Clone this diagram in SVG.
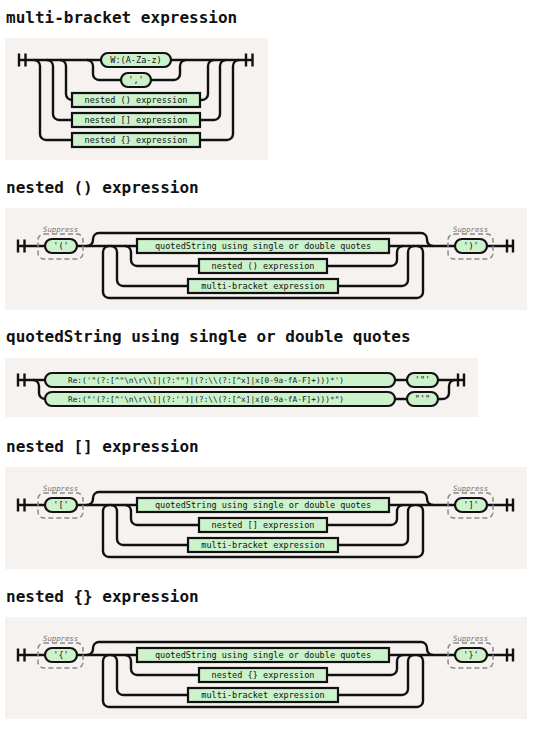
<svg xmlns="http://www.w3.org/2000/svg" width="540" height="737" viewBox="0 0 540 737">
<style>
.panel{fill:#f6f2ef}
.title{font-family:"DejaVu Sans Mono","Liberation Mono",monospace;font-weight:bold;font-size:16px;fill:#111}
.ln{fill:none;stroke:#111;stroke-width:2.4}
.nt{fill:#ccf2cc;stroke:#111;stroke-width:2.2}
.grp{fill:none;stroke:#8a8a8a;stroke-width:1.5;stroke-dasharray:5 3}
.lbl{font-family:"DejaVu Sans Mono","Liberation Mono",monospace;font-style:italic;font-size:7.3px;fill:#777}
.t{font-family:"DejaVu Sans Mono","Liberation Mono",monospace;font-size:8.55px;text-anchor:middle;fill:#111}
.rx{font-family:"DejaVu Sans Mono","Liberation Mono",monospace;font-size:7.8px;fill:#111}
</style>
<rect width="540" height="737" fill="#ffffff"/>

<!-- Diagram 1: multi-bracket expression -->
<g id="d1" transform="translate(0,60)">
  <rect class="panel" x="5" y="-22" width="263" height="122"/>
  <text class="title" x="6" y="-37">multi-bracket expression</text>
  <g id="d1-connectors" class="ln">
    <path d="M19,-6.5v13M25.5,-6.5v13M19,0H101M171,0H252.5M246,-6.5v13M252.5,-6.5v13"/>
    <path d="M34,0a6,6 0 0 1 6,6v68a6,6 0 0 0 6,6H72"/>
    <path d="M47,0a6,6 0 0 1 6,6v48a6,6 0 0 0 6,6H72"/>
    <path d="M60,0a6,6 0 0 1 6,6v28a6,6 0 0 0 6,6"/>
    <path d="M87,0a6,6 0 0 1 6,6v8a6,6 0 0 0 6,6H121"/>
    <path d="M151,20H174a6,6 0 0 0 6,-6v-8a6,6 0 0 1 6,-6"/>
    <path d="M200,40H202a6,6 0 0 0 6,-6v-28a6,6 0 0 1 6,-6"/>
    <path d="M200,60H214a6,6 0 0 0 6,-6v-48a6,6 0 0 1 6,-6"/>
    <path d="M200,80H227a6,6 0 0 0 6,-6v-68a6,6 0 0 1 6,-6"/>
  </g>
  <g id="d1-word"><rect class="nt" x="101" y="-7" width="70" height="14" rx="7"/><text class="t" x="136" y="3">W:(A-Za-z)</text></g>
  <g id="d1-comma"><rect class="nt" x="121" y="13" width="30" height="14" rx="7"/><text class="t" x="136" y="23">','</text></g>
  <g id="d1-paren"><rect class="nt" x="72" y="33" width="128" height="14"/><text class="t" x="136" y="43">nested () expression</text></g>
  <g id="d1-square"><rect class="nt" x="72" y="53" width="128" height="14"/><text class="t" x="136" y="63">nested [] expression</text></g>
  <g id="d1-curly"><rect class="nt" x="72" y="73" width="128" height="14"/><text class="t" x="136" y="83">nested {} expression</text></g>
</g>

<!-- Diagram 2: nested () expression -->
<g id="d2" transform="translate(0,246)">
  <rect class="panel" x="5" y="-38" width="522" height="102"/>
  <text class="title" x="6" y="-53.5">nested () expression</text>
  <g id="d2-connectors" class="ln">
    <path d="M18,-6.5v13M24.5,-6.5v13M18,0H45M77,0H137M389,0H455M487,0H513M507,-6.5v13M513,-6.5v13"/>
    <path d="M87,0a6,6 0 0 0 6,-6v-1a6,6 0 0 1 6,-6H421a6,6 0 0 1 6,6v1a6,6 0 0 0 6,6"/>
    <path d="M125,0a6,6 0 0 1 6,6v8a6,6 0 0 0 6,6H199M327,20H391a6,6 0 0 0 6,-6v-8a6,6 0 0 1 6,-6"/>
    <path d="M111,0a6,6 0 0 1 6,6v28a6,6 0 0 0 6,6H188M338,40H402a6,6 0 0 0 6,-6v-28a6,6 0 0 1 6,-6"/>
    <path d="M109,0a6,6 0 0 0 -6,6v40a6,6 0 0 0 6,6H417a6,6 0 0 0 6,-6v-40a6,6 0 0 0 -6,-6"/>
  </g>
  <g id="d2-open"><rect class="grp" x="38" y="-12" width="45" height="25" rx="6"/><text class="lbl" x="43" y="-14.5">Suppress</text><rect class="nt" x="45" y="-7" width="32" height="14" rx="7"/><text class="t" x="61" y="3">'('</text></g>
  <g id="d2-quoted"><rect class="nt" x="137" y="-7" width="252" height="14"/><text class="t" x="263" y="3">quotedString using single or double quotes</text></g>
  <g id="d2-nested"><rect class="nt" x="199" y="13" width="128" height="14"/><text class="t" x="263" y="23">nested () expression</text></g>
  <g id="d2-multi"><rect class="nt" x="188" y="33" width="150" height="14"/><text class="t" x="263" y="43">multi-bracket expression</text></g>
  <g id="d2-close"><rect class="grp" x="448" y="-12" width="45" height="25" rx="6"/><text class="lbl" x="453" y="-14.5">Suppress</text><rect class="nt" x="455" y="-7" width="32" height="14" rx="7"/><text class="t" x="471" y="3">')'</text></g>
</g>

<!-- Diagram 3: quotedString -->
<g id="d3" transform="translate(0,380)">
  <rect class="panel" x="5" y="-22" width="473" height="59"/>
  <text class="title" x="6" y="-37.7">quotedString using single or double quotes</text>
  <g id="d3-connectors" class="ln">
    <path d="M18,-6.5v13M24.5,-6.5v13M18,0H45M395,0H407M438,0H464M458,-6.5v13M464,-6.5v13"/>
    <path d="M33,0a6,6 0 0 1 6,6v7a6,6 0 0 0 6,6"/>
    <path d="M395,19H407M438,19H443a6,6 0 0 0 6,-6v-7a6,6 0 0 1 6,-6"/>
  </g>
  <g id="d3-dq"><rect class="nt" x="45" y="-7" width="350" height="14" rx="7"/><text class="rx" x="68" y="2.8" textLength="276" lengthAdjust="spacingAndGlyphs">Re:('"(?:[^"\n\r\\]|(?:"")|(?:\\(?:[^x]|x[0-9a-fA-F]+)))*')</text></g>
  <g id="d3-sq"><rect class="nt" x="45" y="12" width="350" height="14" rx="7"/><text class="rx" x="68" y="21.8" textLength="276" lengthAdjust="spacingAndGlyphs">Re:("'(?:[^'\n\r\\]|(?:'')|(?:\\(?:[^x]|x[0-9a-fA-F]+)))*")</text></g>
  <g id="d3-t1"><rect class="nt" x="407" y="-7" width="31" height="14" rx="7"/><text class="t" x="422.5" y="3">'"'</text></g>
  <g id="d3-t2"><rect class="nt" x="407" y="12" width="31" height="14" rx="7"/><text class="t" x="422.5" y="22">"'"</text></g>
</g>

<!-- Diagram 4: nested [] expression -->
<g id="d4" transform="translate(0,505)">
  <rect class="panel" x="5" y="-38" width="522" height="102"/>
  <text class="title" x="6" y="-53.5">nested [] expression</text>
  <g id="d4-connectors" class="ln">
    <path d="M18,-6.5v13M24.5,-6.5v13M18,0H45M77,0H137M389,0H455M487,0H513M507,-6.5v13M513,-6.5v13"/>
    <path d="M87,0a6,6 0 0 0 6,-6v-1a6,6 0 0 1 6,-6H421a6,6 0 0 1 6,6v1a6,6 0 0 0 6,6"/>
    <path d="M125,0a6,6 0 0 1 6,6v8a6,6 0 0 0 6,6H199M327,20H391a6,6 0 0 0 6,-6v-8a6,6 0 0 1 6,-6"/>
    <path d="M111,0a6,6 0 0 1 6,6v28a6,6 0 0 0 6,6H188M338,40H402a6,6 0 0 0 6,-6v-28a6,6 0 0 1 6,-6"/>
    <path d="M109,0a6,6 0 0 0 -6,6v40a6,6 0 0 0 6,6H417a6,6 0 0 0 6,-6v-40a6,6 0 0 0 -6,-6"/>
  </g>
  <g id="d4-open"><rect class="grp" x="38" y="-12" width="45" height="25" rx="6"/><text class="lbl" x="43" y="-14.5">Suppress</text><rect class="nt" x="45" y="-7" width="32" height="14" rx="7"/><text class="t" x="61" y="3">'['</text></g>
  <g id="d4-quoted"><rect class="nt" x="137" y="-7" width="252" height="14"/><text class="t" x="263" y="3">quotedString using single or double quotes</text></g>
  <g id="d4-nested"><rect class="nt" x="199" y="13" width="128" height="14"/><text class="t" x="263" y="23">nested [] expression</text></g>
  <g id="d4-multi"><rect class="nt" x="188" y="33" width="150" height="14"/><text class="t" x="263" y="43">multi-bracket expression</text></g>
  <g id="d4-close"><rect class="grp" x="448" y="-12" width="45" height="25" rx="6"/><text class="lbl" x="453" y="-14.5">Suppress</text><rect class="nt" x="455" y="-7" width="32" height="14" rx="7"/><text class="t" x="471" y="3">']'</text></g>
</g>

<!-- Diagram 5: nested {} expression -->
<g id="d5" transform="translate(0,655)">
  <rect class="panel" x="5" y="-38" width="522" height="102"/>
  <text class="title" x="6" y="-53.5">nested {} expression</text>
  <g id="d5-connectors" class="ln">
    <path d="M18,-6.5v13M24.5,-6.5v13M18,0H45M77,0H137M389,0H455M487,0H513M507,-6.5v13M513,-6.5v13"/>
    <path d="M87,0a6,6 0 0 0 6,-6v-1a6,6 0 0 1 6,-6H421a6,6 0 0 1 6,6v1a6,6 0 0 0 6,6"/>
    <path d="M125,0a6,6 0 0 1 6,6v8a6,6 0 0 0 6,6H199M327,20H391a6,6 0 0 0 6,-6v-8a6,6 0 0 1 6,-6"/>
    <path d="M111,0a6,6 0 0 1 6,6v28a6,6 0 0 0 6,6H188M338,40H402a6,6 0 0 0 6,-6v-28a6,6 0 0 1 6,-6"/>
    <path d="M109,0a6,6 0 0 0 -6,6v40a6,6 0 0 0 6,6H417a6,6 0 0 0 6,-6v-40a6,6 0 0 0 -6,-6"/>
  </g>
  <g id="d5-open"><rect class="grp" x="38" y="-12" width="45" height="25" rx="6"/><text class="lbl" x="43" y="-14.5">Suppress</text><rect class="nt" x="45" y="-7" width="32" height="14" rx="7"/><text class="t" x="61" y="3">'{'</text></g>
  <g id="d5-quoted"><rect class="nt" x="137" y="-7" width="252" height="14"/><text class="t" x="263" y="3">quotedString using single or double quotes</text></g>
  <g id="d5-nested"><rect class="nt" x="199" y="13" width="128" height="14"/><text class="t" x="263" y="23">nested {} expression</text></g>
  <g id="d5-multi"><rect class="nt" x="188" y="33" width="150" height="14"/><text class="t" x="263" y="43">multi-bracket expression</text></g>
  <g id="d5-close"><rect class="grp" x="448" y="-12" width="45" height="25" rx="6"/><text class="lbl" x="453" y="-14.5">Suppress</text><rect class="nt" x="455" y="-7" width="32" height="14" rx="7"/><text class="t" x="471" y="3">'}'</text></g>
</g>
</svg>
